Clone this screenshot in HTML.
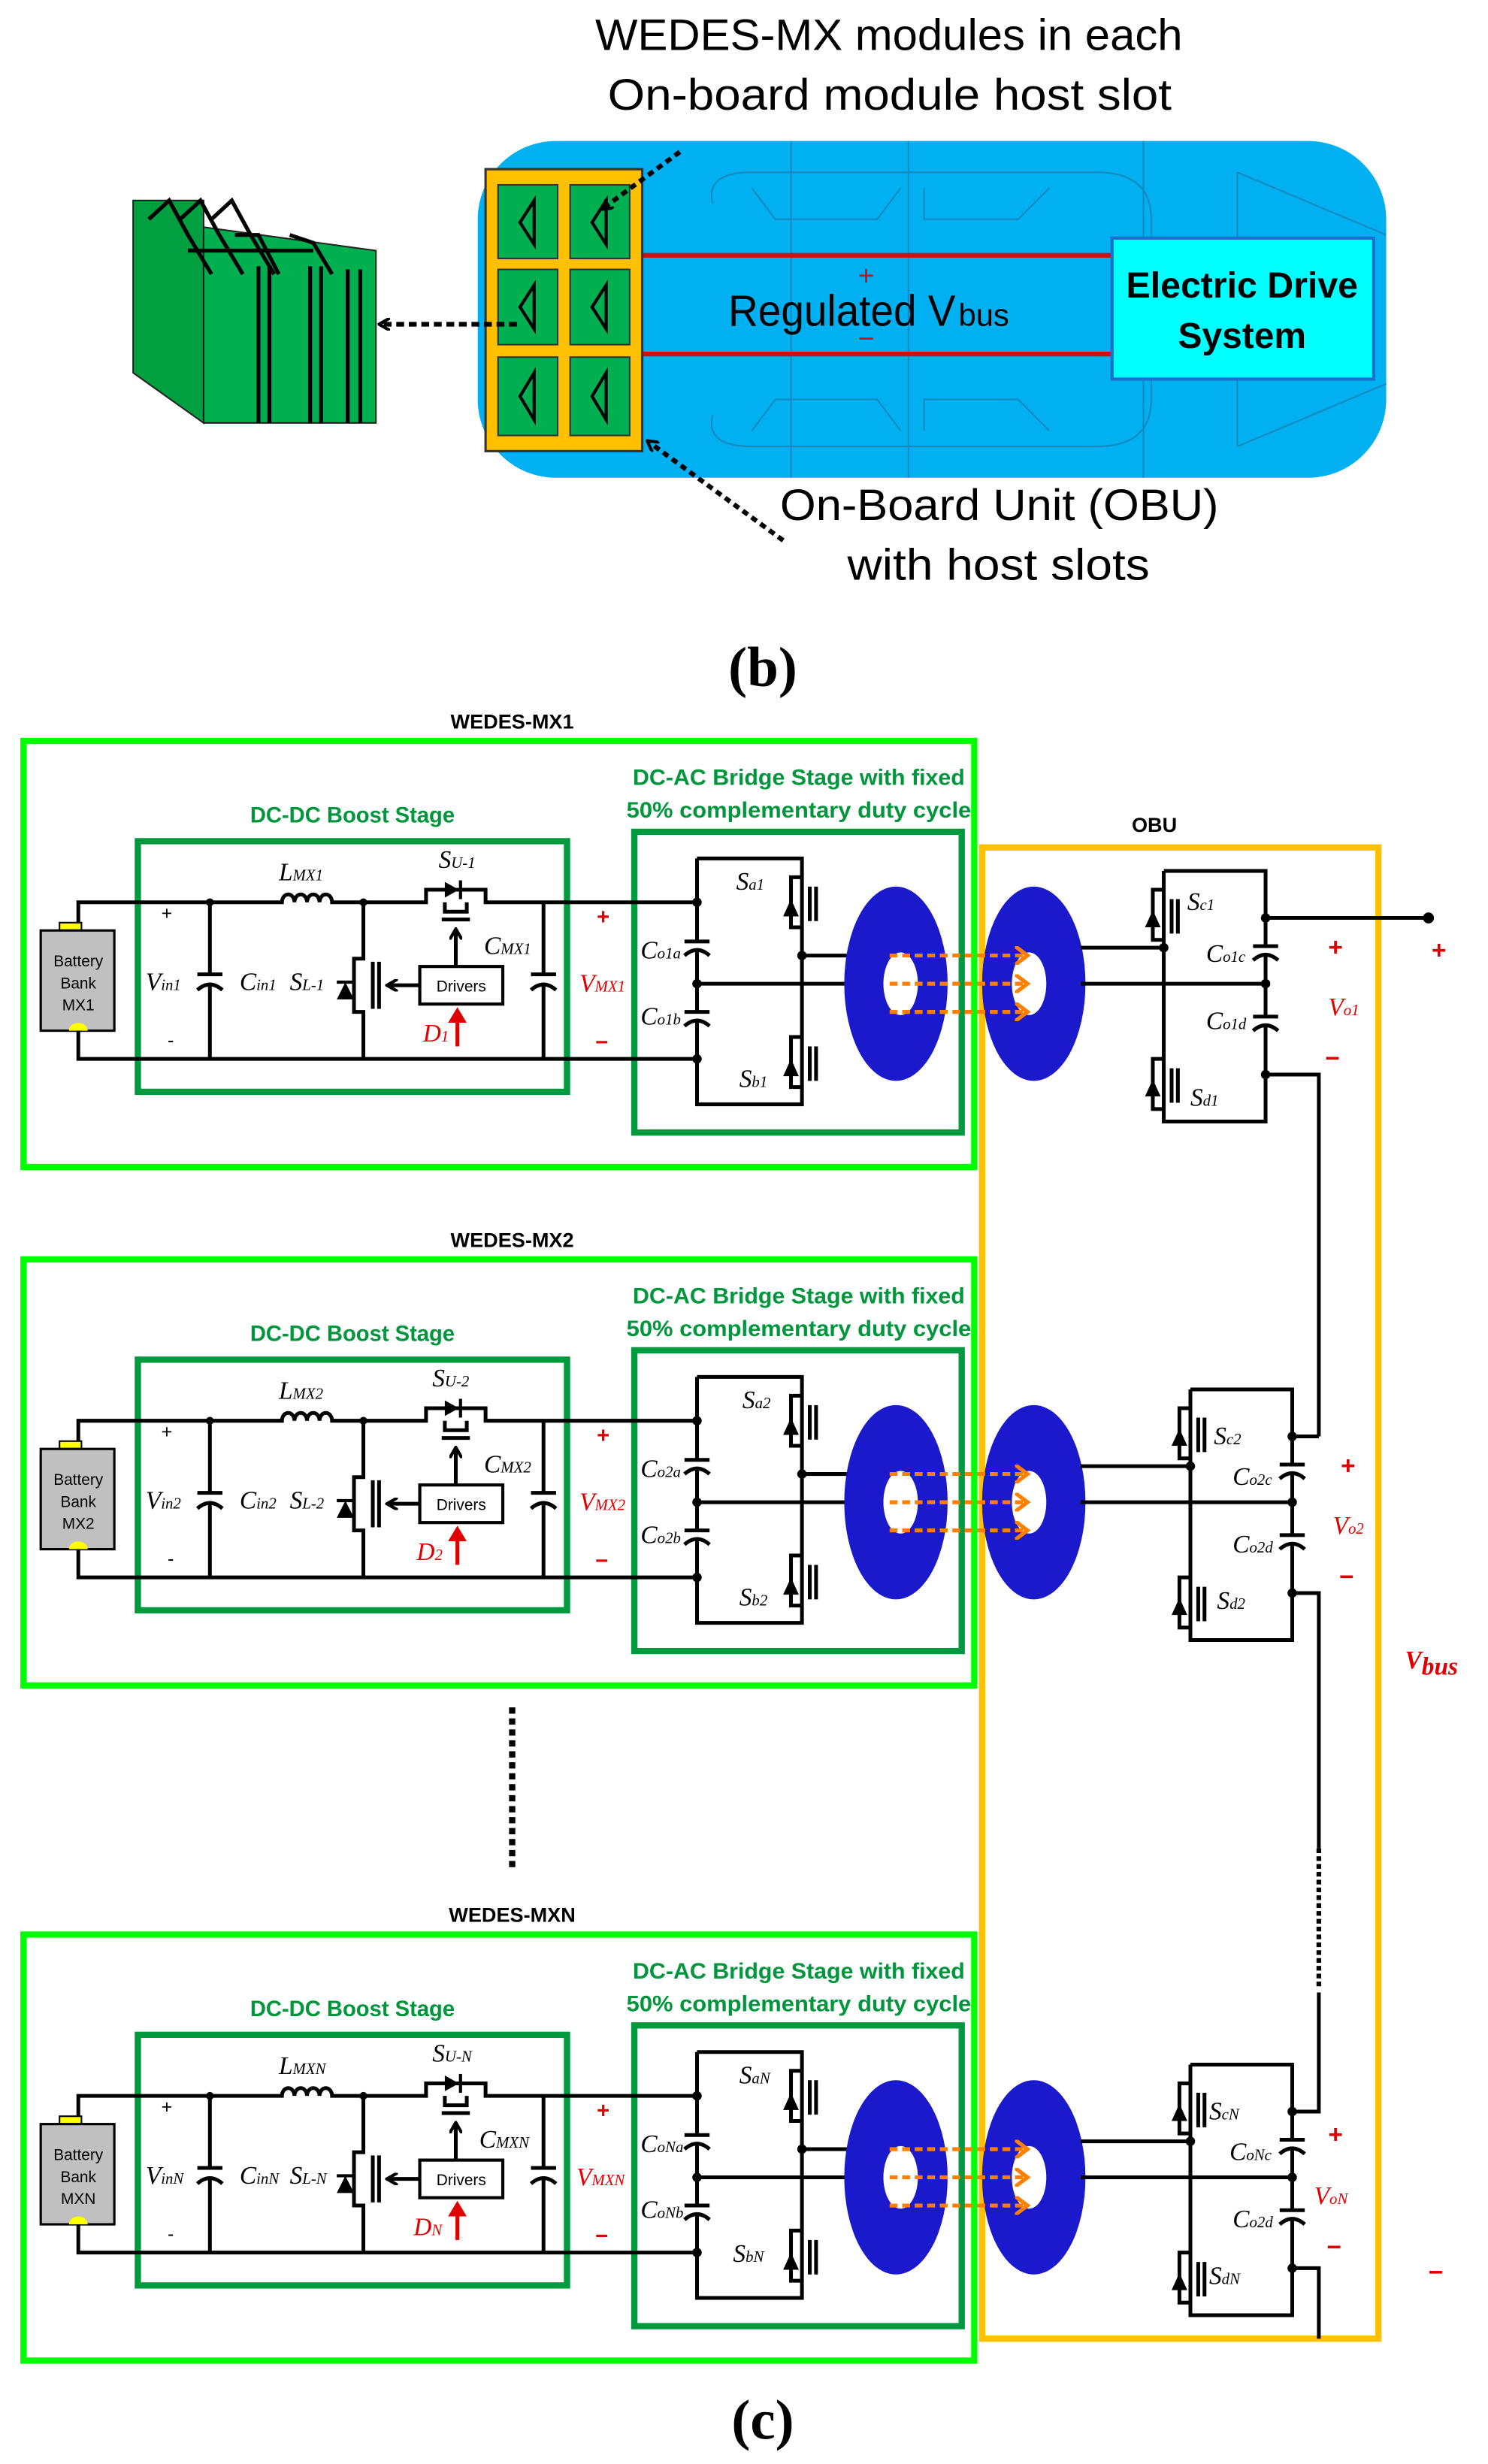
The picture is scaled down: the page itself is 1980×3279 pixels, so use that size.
<!DOCTYPE html>
<html><head><meta charset="utf-8"><style>
html,body{margin:0;padding:0;background:#fff;}
svg{display:block;}
.lbl{font-family:"Liberation Serif",serif;font-style:italic;font-size:16px;fill:#000;}
.red{fill:#e00000;}
.sub{font-size:10px;}
.gt{font-family:"Liberation Sans",sans-serif;font-weight:bold;font-size:14px;fill:#00963c;}
.tt{font-family:"Liberation Sans",sans-serif;font-weight:bold;font-size:13px;fill:#000;}
.w{stroke:#000;stroke-width:2.4;fill:none;}
</style></head><body>
<svg width="1980" height="3279" viewBox="0 0 950 1573" preserveAspectRatio="none" xmlns="http://www.w3.org/2000/svg">
<defs>
<marker id="ah" markerWidth="8" markerHeight="8" refX="6" refY="4" orient="auto" markerUnits="userSpaceOnUse"><path d="M0,0 L7,4 L0,8" fill="none" stroke="#000" stroke-width="2"/></marker>
<marker id="ahr" markerWidth="10" markerHeight="12" refX="5" refY="6" orient="auto" markerUnits="userSpaceOnUse"><path d="M0,0 L10,6 L0,12 z" fill="#e00000"/></marker>
<marker id="aho" markerWidth="10" markerHeight="12" refX="7" refY="6" orient="auto" markerUnits="userSpaceOnUse"><path d="M0,0 L8,6 L0,12" fill="none" stroke="#ff7f00" stroke-width="2.5"/></marker>
</defs>

<!-- ======== (b) car ======== -->
<text x="380" y="32" font-family="Liberation Sans,sans-serif" font-size="28" textLength="375" lengthAdjust="spacingAndGlyphs">WEDES-MX modules in each</text>
<text x="388" y="70" font-family="Liberation Sans,sans-serif" font-size="28" textLength="360" lengthAdjust="spacingAndGlyphs">On-board module host slot</text>

<rect x="305" y="90" width="580" height="215" rx="50" fill="#00b0f0"/>
<g stroke="#1a7fb5" stroke-width="1" fill="none" opacity="0.8">
<path d="M455,130 Q450,110 480,110 L700,110 Q735,110 735,140 L735,255 Q735,285 700,285 L480,285 Q450,285 455,265"/>
<path d="M480,120 L495,140 L560,140 L575,120 M590,120 L590,140 L650,140 L670,120"/>
<path d="M480,275 L495,255 L560,255 L575,275 M590,275 L590,255 L650,255 L670,275"/>
<path d="M790,110 L885,150 M790,285 L885,245 M790,110 L790,285"/>
<path d="M505,90 L505,305 M580,90 L580,305 M730,90 L730,305"/>
</g>
<line x1="410" y1="163" x2="712" y2="163" stroke="#d01010" stroke-width="3"/>
<line x1="410" y1="226" x2="712" y2="226" stroke="#d01010" stroke-width="3"/>
<text x="553" y="182" fill="#d01010" font-family="Liberation Sans,sans-serif" font-size="18" text-anchor="middle">+</text>
<text x="553" y="222" fill="#d01010" font-family="Liberation Sans,sans-serif" font-size="18" text-anchor="middle">−</text>
<text x="465" y="208" font-family="Liberation Sans,sans-serif" font-size="28" textLength="145" lengthAdjust="spacingAndGlyphs">Regulated V</text>
<text x="612" y="208" font-family="Liberation Sans,sans-serif" font-size="20">bus</text>
<rect x="710" y="152" width="167" height="90" fill="#00ffff" stroke="#1a6fd0" stroke-width="2"/>
<text x="793" y="190" font-family="Liberation Sans,sans-serif" font-weight="bold" font-size="23" text-anchor="middle" textLength="148" lengthAdjust="spacingAndGlyphs">Electric Drive</text>
<text x="793" y="222" font-family="Liberation Sans,sans-serif" font-weight="bold" font-size="23" text-anchor="middle">System</text>
<rect x="310" y="108" width="100" height="180" fill="#ffc000" stroke="#333" stroke-width="1.5"/>
<g fill="#00b050" stroke="#333" stroke-width="1">
<rect x="318" y="118" width="38" height="47"/><rect x="364" y="118" width="38" height="47"/>
<rect x="318" y="172" width="38" height="48"/><rect x="364" y="172" width="38" height="48"/>
<rect x="318" y="228" width="38" height="50"/><rect x="364" y="228" width="38" height="50"/>
</g>
<g fill="none" stroke="#000" stroke-width="2">
<path d="M341,128 L332,142 L341,156 Z"/><path d="M387,128 L378,142 L387,156 Z"/>
<path d="M341,182 L332,196 L341,210 Z"/><path d="M387,182 L378,196 L387,210 Z"/>
<path d="M341,238 L332,253 L341,268 Z"/><path d="M387,238 L378,253 L387,268 Z"/>
</g>
<!-- battery stack -->
<polygon points="85,128 130,128 130,270 85,238" fill="#00a040" stroke="#222" stroke-width="1"/>
<polygon points="130,145 240,160 240,270 130,270" fill="#00b050" stroke="#222" stroke-width="1"/>
<g stroke="#000" stroke-width="2.5" fill="none">
<path d="M95,140 L108,128 L120,150 L135,175 M115,140 L128,128 L140,150 L155,175 M135,140 L148,128 L160,150 L175,175 M120,160 L200,160 M150,150 L165,150 L178,175 M185,150 L200,155 L212,175"/>
<line x1="165" y1="170" x2="165" y2="270"/><line x1="172" y1="170" x2="172" y2="270"/>
<line x1="198" y1="170" x2="198" y2="270"/><line x1="205" y1="170" x2="205" y2="270"/>
<line x1="222" y1="172" x2="222" y2="270"/><line x1="230" y1="172" x2="230" y2="270"/>
</g>
<line x1="330" y1="207" x2="243" y2="207" stroke="#000" stroke-width="3" stroke-dasharray="5,3" marker-end="url(#ah)"/>
<line x1="434" y1="97" x2="385" y2="133" stroke="#000" stroke-width="3" stroke-dasharray="4,3" marker-end="url(#ah)"/>
<line x1="500" y1="345" x2="414" y2="282" stroke="#000" stroke-width="3" stroke-dasharray="4,3" marker-end="url(#ah)"/>
<text x="498" y="332" font-family="Liberation Sans,sans-serif" font-size="28" textLength="280" lengthAdjust="spacingAndGlyphs">On-Board Unit (OBU)</text>
<text x="541" y="370" font-family="Liberation Sans,sans-serif" font-size="28" textLength="193" lengthAdjust="spacingAndGlyphs">with host slots</text>
<text x="487" y="438" font-family="Liberation Serif,serif" font-weight="bold" font-size="36" text-anchor="middle">(b)</text>

<!-- ======== (c) ======== -->
<rect x="627" y="541" width="253" height="952" fill="none" stroke="#ffc000" stroke-width="4"/>
<text x="737" y="531" class="tt" text-anchor="middle">OBU</text>

<!-- MODULE 1 -->
<g>
<text x="327" y="465" class="tt" text-anchor="middle">WEDES-MX1</text>
<rect x="15" y="473" width="607" height="272" fill="none" stroke="#00ff00" stroke-width="4"/>
<text x="225" y="525" class="gt" text-anchor="middle">DC-DC Boost Stage</text>
<text x="510" y="501" class="gt" text-anchor="middle" textLength="212" lengthAdjust="spacingAndGlyphs">DC-AC Bridge Stage with fixed</text>
<text x="510" y="522" class="gt" text-anchor="middle" textLength="220" lengthAdjust="spacingAndGlyphs">50% complementary duty cycle</text>
<rect x="88" y="537" width="274" height="160" fill="none" stroke="#009a3e" stroke-width="4"/>
<rect x="405" y="531" width="209" height="192" fill="none" stroke="#009a3e" stroke-width="4"/>
<rect x="38" y="589" width="14" height="6" fill="#ffff00" stroke="#000" stroke-width="1"/>
<rect x="26" y="594" width="47" height="64" fill="#c0c0c0" stroke="#000" stroke-width="1.5"/>
<path d="M44,658 a6,5 0 0 1 12,0 z" fill="#ffff00"/>
<text x="50" y="617" font-family="Liberation Sans,sans-serif" font-size="10" text-anchor="middle">Battery</text>
<text x="50" y="631" font-family="Liberation Sans,sans-serif" font-size="10" text-anchor="middle">Bank</text>
<text x="50" y="645" font-family="Liberation Sans,sans-serif" font-size="10" text-anchor="middle">MX1</text>
<path class="w" d="M50,589 V576 H180 a4,5 0 0 1 8,0 a4,5 0 0 1 8,0 a4,5 0 0 1 8,0 a4,5 0 0 1 8,0 H272 V568 H310 V576 H445"/>
<polygon points="284,563 284,573 293,568"/><line x1="294" y1="562" x2="294" y2="574" stroke="#000" stroke-width="2"/>
<path class="w" d="M284,576 V582 H298 V576 M282,587 H300"/>
<path class="w" d="M50,658 V676 H445"/>
<path class="w" d="M134,576 V622 M126,622 H142 M126,632 Q134,625 142,632 M134,628 V676"/>
<path class="w" d="M347,576 V622 M339,622 H355 M339,632 Q347,625 355,632 M347,628 V676"/>
<path class="w" d="M232,576 V612 H226 V646 H232 V676 M238,614 V644 M242,614 V644"/>
<polygon points="215,638 226,638 220.5,627"/><line x1="215" y1="627" x2="226" y2="627" stroke="#000" stroke-width="2"/>
<rect x="268" y="617" width="53" height="24" fill="#fff" stroke="#000" stroke-width="2"/>
<text x="294.5" y="633" font-family="Liberation Sans,sans-serif" font-size="10" text-anchor="middle">Drivers</text>
<line x1="291" y1="617" x2="291" y2="594" stroke="#000" stroke-width="2.4" marker-end="url(#ah)"/>
<line x1="268" y1="629" x2="248" y2="629" stroke="#000" stroke-width="2.4" marker-end="url(#ah)"/>
<line x1="292" y1="668" x2="292" y2="648" stroke="#e00000" stroke-width="2.4" marker-end="url(#ahr)"/>
<g fill="#000"><circle cx="134" cy="576" r="2.5"/><circle cx="232" cy="576" r="2.5"/></g>
<text x="103" y="587" font-family="Liberation Sans,sans-serif" font-size="12">+</text>
<text x="107" y="668" font-family="Liberation Sans,sans-serif" font-size="12">-</text>
<text x="93" y="632" class="lbl">V<tspan class="sub">in1</tspan></text>
<text x="153" y="632" class="lbl">C<tspan class="sub">in1</tspan></text>
<text x="185" y="632" class="lbl">S<tspan class="sub">L-1</tspan></text>
<text x="178" y="562" class="lbl">L<tspan class="sub">MX1</tspan></text>
<text x="280" y="554" class="lbl">S<tspan class="sub">U-1</tspan></text>
<text x="309" y="609" class="lbl">C<tspan class="sub">MX1</tspan></text>
<text x="270" y="665" class="lbl red">D<tspan class="sub">1</tspan></text>
<text x="381" y="590" font-family="Liberation Sans,sans-serif" font-size="14" font-weight="bold" class="red">+</text>
<text x="370" y="633" class="lbl red">V<tspan class="sub">MX1</tspan></text>
<text x="380" y="670" font-family="Liberation Sans,sans-serif" font-size="14" font-weight="bold" class="red">−</text>
<path class="w" d="M445,548 V601 M437,601 H453 M437,610 Q445,603 453,610 M445,606 V646 M437,646 H453 M437,655 Q445,648 453,655 M445,651 V705 H512 V548 H445"/>
<path class="w" d="M512,560 H505 V592 H512 M517,566 V588 M521,566 V588 M512,662 H505 V694 H512 M517,668 V690 M521,668 V690"/>
<polygon points="500,585 510,585 505,574"/><polygon points="500,687 510,687 505,676"/>
<path class="w" d="M445,628 H545 M512,610 H545"/>
<g fill="#000"><circle cx="445" cy="576" r="3"/><circle cx="445" cy="676" r="3"/><circle cx="445" cy="628" r="3"/><circle cx="512" cy="610" r="3"/></g>
<text x="470" y="568" class="lbl">S<tspan class="sub">a1</tspan></text>
<text x="472" y="694" class="lbl">S<tspan class="sub">b1</tspan></text>
<text x="409" y="612" class="lbl" font-size="14">C<tspan class="sub">o1a</tspan></text>
<text x="409" y="654" class="lbl" font-size="14">C<tspan class="sub">o1b</tspan></text>
<ellipse cx="572" cy="628" rx="33" ry="62" fill="#1a1acc"/><ellipse cx="575" cy="628" rx="11" ry="20" fill="#fff"/>
<ellipse cx="660" cy="628" rx="33" ry="62" fill="#1a1acc"/><ellipse cx="657" cy="628" rx="11" ry="20" fill="#fff"/>
<g stroke="#ff7f00" stroke-width="2.5" stroke-dasharray="5,3" marker-end="url(#aho)"><line x1="568" y1="610" x2="655" y2="610"/><line x1="568" y1="628" x2="655" y2="628"/><line x1="568" y1="646" x2="655" y2="646"/></g>
</g>

<!-- MODULE 2 -->
<g transform="translate(0,331)">
<text x="327" y="465" class="tt" text-anchor="middle">WEDES-MX2</text>
<rect x="15" y="473" width="607" height="272" fill="none" stroke="#00ff00" stroke-width="4"/>
<text x="225" y="525" class="gt" text-anchor="middle">DC-DC Boost Stage</text>
<text x="510" y="501" class="gt" text-anchor="middle" textLength="212" lengthAdjust="spacingAndGlyphs">DC-AC Bridge Stage with fixed</text>
<text x="510" y="522" class="gt" text-anchor="middle" textLength="220" lengthAdjust="spacingAndGlyphs">50% complementary duty cycle</text>
<rect x="88" y="537" width="274" height="160" fill="none" stroke="#009a3e" stroke-width="4"/>
<rect x="405" y="531" width="209" height="192" fill="none" stroke="#009a3e" stroke-width="4"/>
<rect x="38" y="589" width="14" height="6" fill="#ffff00" stroke="#000" stroke-width="1"/>
<rect x="26" y="594" width="47" height="64" fill="#c0c0c0" stroke="#000" stroke-width="1.5"/>
<path d="M44,658 a6,5 0 0 1 12,0 z" fill="#ffff00"/>
<text x="50" y="617" font-family="Liberation Sans,sans-serif" font-size="10" text-anchor="middle">Battery</text>
<text x="50" y="631" font-family="Liberation Sans,sans-serif" font-size="10" text-anchor="middle">Bank</text>
<text x="50" y="645" font-family="Liberation Sans,sans-serif" font-size="10" text-anchor="middle">MX2</text>
<path class="w" d="M50,589 V576 H180 a4,5 0 0 1 8,0 a4,5 0 0 1 8,0 a4,5 0 0 1 8,0 a4,5 0 0 1 8,0 H272 V568 H310 V576 H445"/>
<polygon points="284,563 284,573 293,568"/><line x1="294" y1="562" x2="294" y2="574" stroke="#000" stroke-width="2"/>
<path class="w" d="M284,576 V582 H298 V576 M282,587 H300"/>
<path class="w" d="M50,658 V676 H445"/>
<path class="w" d="M134,576 V622 M126,622 H142 M126,632 Q134,625 142,632 M134,628 V676"/>
<path class="w" d="M347,576 V622 M339,622 H355 M339,632 Q347,625 355,632 M347,628 V676"/>
<path class="w" d="M232,576 V612 H226 V646 H232 V676 M238,614 V644 M242,614 V644"/>
<polygon points="215,638 226,638 220.5,627"/><line x1="215" y1="627" x2="226" y2="627" stroke="#000" stroke-width="2"/>
<rect x="268" y="617" width="53" height="24" fill="#fff" stroke="#000" stroke-width="2"/>
<text x="294.5" y="633" font-family="Liberation Sans,sans-serif" font-size="10" text-anchor="middle">Drivers</text>
<line x1="291" y1="617" x2="291" y2="594" stroke="#000" stroke-width="2.4" marker-end="url(#ah)"/>
<line x1="268" y1="629" x2="248" y2="629" stroke="#000" stroke-width="2.4" marker-end="url(#ah)"/>
<line x1="292" y1="668" x2="292" y2="648" stroke="#e00000" stroke-width="2.4" marker-end="url(#ahr)"/>
<g fill="#000"><circle cx="134" cy="576" r="2.5"/><circle cx="232" cy="576" r="2.5"/></g>
<text x="103" y="587" font-family="Liberation Sans,sans-serif" font-size="12">+</text>
<text x="107" y="668" font-family="Liberation Sans,sans-serif" font-size="12">-</text>
<text x="93" y="632" class="lbl">V<tspan class="sub">in2</tspan></text>
<text x="153" y="632" class="lbl">C<tspan class="sub">in2</tspan></text>
<text x="185" y="632" class="lbl">S<tspan class="sub">L-2</tspan></text>
<text x="178" y="562" class="lbl">L<tspan class="sub">MX2</tspan></text>
<text x="276" y="554" class="lbl">S<tspan class="sub">U-2</tspan></text>
<text x="309" y="609" class="lbl">C<tspan class="sub">MX2</tspan></text>
<text x="266" y="665" class="lbl red">D<tspan class="sub">2</tspan></text>
<text x="381" y="590" font-family="Liberation Sans,sans-serif" font-size="14" font-weight="bold" class="red">+</text>
<text x="370" y="633" class="lbl red">V<tspan class="sub">MX2</tspan></text>
<text x="380" y="670" font-family="Liberation Sans,sans-serif" font-size="14" font-weight="bold" class="red">−</text>
<path class="w" d="M445,548 V601 M437,601 H453 M437,610 Q445,603 453,610 M445,606 V646 M437,646 H453 M437,655 Q445,648 453,655 M445,651 V705 H512 V548 H445"/>
<path class="w" d="M512,560 H505 V592 H512 M517,566 V588 M521,566 V588 M512,662 H505 V694 H512 M517,668 V690 M521,668 V690"/>
<polygon points="500,585 510,585 505,574"/><polygon points="500,687 510,687 505,676"/>
<path class="w" d="M445,628 H545 M512,610 H545"/>
<g fill="#000"><circle cx="445" cy="576" r="3"/><circle cx="445" cy="676" r="3"/><circle cx="445" cy="628" r="3"/><circle cx="512" cy="610" r="3"/></g>
<text x="474" y="568" class="lbl">S<tspan class="sub">a2</tspan></text>
<text x="472" y="694" class="lbl">S<tspan class="sub">b2</tspan></text>
<text x="409" y="612" class="lbl" font-size="14">C<tspan class="sub">o2a</tspan></text>
<text x="409" y="654" class="lbl" font-size="14">C<tspan class="sub">o2b</tspan></text>
<ellipse cx="572" cy="628" rx="33" ry="62" fill="#1a1acc"/><ellipse cx="575" cy="628" rx="11" ry="20" fill="#fff"/>
<ellipse cx="660" cy="628" rx="33" ry="62" fill="#1a1acc"/><ellipse cx="657" cy="628" rx="11" ry="20" fill="#fff"/>
<g stroke="#ff7f00" stroke-width="2.5" stroke-dasharray="5,3" marker-end="url(#aho)"><line x1="568" y1="610" x2="655" y2="610"/><line x1="568" y1="628" x2="655" y2="628"/><line x1="568" y1="646" x2="655" y2="646"/></g>
</g>

<line x1="327" y1="1090" x2="327" y2="1195" stroke="#000" stroke-width="4" stroke-dasharray="4,3"/>

<!-- MODULE N -->
<g transform="translate(0,762)">
<text x="327" y="465" class="tt" text-anchor="middle">WEDES-MXN</text>
<rect x="15" y="473" width="607" height="272" fill="none" stroke="#00ff00" stroke-width="4"/>
<text x="225" y="525" class="gt" text-anchor="middle">DC-DC Boost Stage</text>
<text x="510" y="501" class="gt" text-anchor="middle" textLength="212" lengthAdjust="spacingAndGlyphs">DC-AC Bridge Stage with fixed</text>
<text x="510" y="522" class="gt" text-anchor="middle" textLength="220" lengthAdjust="spacingAndGlyphs">50% complementary duty cycle</text>
<rect x="88" y="537" width="274" height="160" fill="none" stroke="#009a3e" stroke-width="4"/>
<rect x="405" y="531" width="209" height="192" fill="none" stroke="#009a3e" stroke-width="4"/>
<rect x="38" y="589" width="14" height="6" fill="#ffff00" stroke="#000" stroke-width="1"/>
<rect x="26" y="594" width="47" height="64" fill="#c0c0c0" stroke="#000" stroke-width="1.5"/>
<path d="M44,658 a6,5 0 0 1 12,0 z" fill="#ffff00"/>
<text x="50" y="617" font-family="Liberation Sans,sans-serif" font-size="10" text-anchor="middle">Battery</text>
<text x="50" y="631" font-family="Liberation Sans,sans-serif" font-size="10" text-anchor="middle">Bank</text>
<text x="50" y="645" font-family="Liberation Sans,sans-serif" font-size="10" text-anchor="middle">MXN</text>
<path class="w" d="M50,589 V576 H180 a4,5 0 0 1 8,0 a4,5 0 0 1 8,0 a4,5 0 0 1 8,0 a4,5 0 0 1 8,0 H272 V568 H310 V576 H445"/>
<polygon points="284,563 284,573 293,568"/><line x1="294" y1="562" x2="294" y2="574" stroke="#000" stroke-width="2"/>
<path class="w" d="M284,576 V582 H298 V576 M282,587 H300"/>
<path class="w" d="M50,658 V676 H445"/>
<path class="w" d="M134,576 V622 M126,622 H142 M126,632 Q134,625 142,632 M134,628 V676"/>
<path class="w" d="M347,576 V622 M339,622 H355 M339,632 Q347,625 355,632 M347,628 V676"/>
<path class="w" d="M232,576 V612 H226 V646 H232 V676 M238,614 V644 M242,614 V644"/>
<polygon points="215,638 226,638 220.5,627"/><line x1="215" y1="627" x2="226" y2="627" stroke="#000" stroke-width="2"/>
<rect x="268" y="617" width="53" height="24" fill="#fff" stroke="#000" stroke-width="2"/>
<text x="294.5" y="633" font-family="Liberation Sans,sans-serif" font-size="10" text-anchor="middle">Drivers</text>
<line x1="291" y1="617" x2="291" y2="594" stroke="#000" stroke-width="2.4" marker-end="url(#ah)"/>
<line x1="268" y1="629" x2="248" y2="629" stroke="#000" stroke-width="2.4" marker-end="url(#ah)"/>
<line x1="292" y1="668" x2="292" y2="648" stroke="#e00000" stroke-width="2.4" marker-end="url(#ahr)"/>
<g fill="#000"><circle cx="134" cy="576" r="2.5"/><circle cx="232" cy="576" r="2.5"/></g>
<text x="103" y="587" font-family="Liberation Sans,sans-serif" font-size="12">+</text>
<text x="107" y="668" font-family="Liberation Sans,sans-serif" font-size="12">-</text>
<text x="93" y="632" class="lbl">V<tspan class="sub">inN</tspan></text>
<text x="153" y="632" class="lbl">C<tspan class="sub">inN</tspan></text>
<text x="185" y="632" class="lbl">S<tspan class="sub">L-N</tspan></text>
<text x="178" y="562" class="lbl">L<tspan class="sub">MXN</tspan></text>
<text x="276" y="554" class="lbl">S<tspan class="sub">U-N</tspan></text>
<text x="306" y="609" class="lbl">C<tspan class="sub">MXN</tspan></text>
<text x="264" y="665" class="lbl red">D<tspan class="sub">N</tspan></text>
<text x="381" y="590" font-family="Liberation Sans,sans-serif" font-size="14" font-weight="bold" class="red">+</text>
<text x="368" y="633" class="lbl red">V<tspan class="sub">MXN</tspan></text>
<text x="380" y="670" font-family="Liberation Sans,sans-serif" font-size="14" font-weight="bold" class="red">−</text>
<path class="w" d="M445,548 V601 M437,601 H453 M437,610 Q445,603 453,610 M445,606 V646 M437,646 H453 M437,655 Q445,648 453,655 M445,651 V705 H512 V548 H445"/>
<path class="w" d="M512,560 H505 V592 H512 M517,566 V588 M521,566 V588 M512,662 H505 V694 H512 M517,668 V690 M521,668 V690"/>
<polygon points="500,585 510,585 505,574"/><polygon points="500,687 510,687 505,676"/>
<path class="w" d="M445,628 H545 M512,610 H545"/>
<g fill="#000"><circle cx="445" cy="576" r="3"/><circle cx="445" cy="676" r="3"/><circle cx="445" cy="628" r="3"/><circle cx="512" cy="610" r="3"/></g>
<text x="472" y="568" class="lbl">S<tspan class="sub">aN</tspan></text>
<text x="468" y="682" class="lbl">S<tspan class="sub">bN</tspan></text>
<text x="409" y="612" class="lbl" font-size="14">C<tspan class="sub">oNa</tspan></text>
<text x="409" y="654" class="lbl" font-size="14">C<tspan class="sub">oNb</tspan></text>
<ellipse cx="572" cy="628" rx="33" ry="62" fill="#1a1acc"/><ellipse cx="575" cy="628" rx="11" ry="20" fill="#fff"/>
<ellipse cx="660" cy="628" rx="33" ry="62" fill="#1a1acc"/><ellipse cx="657" cy="628" rx="11" ry="20" fill="#fff"/>
<g stroke="#ff7f00" stroke-width="2.5" stroke-dasharray="5,3" marker-end="url(#aho)"><line x1="568" y1="610" x2="655" y2="610"/><line x1="568" y1="628" x2="655" y2="628"/><line x1="568" y1="646" x2="655" y2="646"/></g>
</g>

<!-- OBU bridges -->
<g>
<path class="w" d="M743,556 H808 V604 M800,604 H816 M800,613 Q808,606 816,613 M808,609 V649 M800,649 H816 M800,658 Q808,651 816,658 M808,654 V716 H743 V556"/>
<path class="w" d="M743,568 H736 V600 H743 M748,574 V596 M752,574 V596 M743,676 H736 V708 H743 M748,682 V704 M752,682 V704"/>
<polygon points="731,592 741,592 736,581"/><polygon points="731,700 741,700 736,689"/>
<path class="w" d="M690,605 H743 M690,628 H808 M808,586 H912 M808,686 H842 V917"/>
<g fill="#000"><circle cx="743" cy="605" r="3"/><circle cx="808" cy="628" r="3"/><circle cx="808" cy="586" r="3"/><circle cx="808" cy="686" r="3"/><circle cx="912" cy="586" r="3.5"/></g>
<text x="758" y="581" class="lbl">S<tspan class="sub">c1</tspan></text>
<text x="770" y="614" class="lbl" font-size="14">C<tspan class="sub">o1c</tspan></text>
<text x="770" y="657" class="lbl" font-size="14">C<tspan class="sub">o1d</tspan></text>
<text x="760" y="706" class="lbl">S<tspan class="sub">d1</tspan></text>
<text x="848" y="610" font-family="Liberation Sans,sans-serif" font-size="16" font-weight="bold" class="red">+</text>
<text x="914" y="612" font-family="Liberation Sans,sans-serif" font-size="16" font-weight="bold" class="red">+</text>
<text x="848" y="648" class="lbl red" font-size="20">V<tspan class="sub" font-size="12">o1</tspan></text>
<text x="846" y="681" font-family="Liberation Sans,sans-serif" font-size="16" font-weight="bold" class="red">−</text>
</g>
<g transform="translate(17,331)">
<path class="w" d="M743,556 H808 V604 M800,604 H816 M800,613 Q808,606 816,613 M808,609 V649 M800,649 H816 M800,658 Q808,651 816,658 M808,654 V716 H743 V556"/>
<path class="w" d="M743,568 H736 V600 H743 M748,574 V596 M752,574 V596 M743,676 H736 V708 H743 M748,682 V704 M752,682 V704"/>
<polygon points="731,592 741,592 736,581"/><polygon points="731,700 741,700 736,689"/>
<path class="w" d="M673,605 H743 M673,628 H808 M808,586 H825 M808,686 H825 V849"/>
<g fill="#000"><circle cx="743" cy="605" r="3"/><circle cx="808" cy="628" r="3"/><circle cx="808" cy="586" r="3"/><circle cx="808" cy="686" r="3"/></g>
<text x="758" y="591" class="lbl">S<tspan class="sub">c2</tspan></text>
<text x="770" y="617" class="lbl" font-size="14">C<tspan class="sub">o2c</tspan></text>
<text x="770" y="660" class="lbl" font-size="14">C<tspan class="sub">o2d</tspan></text>
<text x="760" y="696" class="lbl">S<tspan class="sub">d2</tspan></text>
<text x="839" y="610" font-family="Liberation Sans,sans-serif" font-size="16" font-weight="bold" class="red">+</text>
<text x="834" y="648" class="lbl red" font-size="20">V<tspan class="sub" font-size="12">o2</tspan></text>
<text x="838" y="681" font-family="Liberation Sans,sans-serif" font-size="16" font-weight="bold" class="red">−</text>
</g>
<line x1="842" y1="1180" x2="842" y2="1270" stroke="#000" stroke-width="3" stroke-dasharray="3,2"/>
<g transform="translate(17,762)">
<path class="w" d="M743,556 H808 V604 M800,604 H816 M800,613 Q808,606 816,613 M808,609 V649 M800,649 H816 M800,658 Q808,651 816,658 M808,654 V716 H743 V556"/>
<path class="w" d="M743,568 H736 V600 H743 M748,574 V596 M752,574 V596 M743,676 H736 V708 H743 M748,682 V704 M752,682 V704"/>
<polygon points="731,592 741,592 736,581"/><polygon points="731,700 741,700 736,689"/>
<path class="w" d="M673,605 H743 M673,628 H808 M808,586 H825 V510 M808,686 H825 V731"/>
<g fill="#000"><circle cx="743" cy="605" r="3"/><circle cx="808" cy="628" r="3"/><circle cx="808" cy="586" r="3"/><circle cx="808" cy="686" r="3"/></g>
<text x="755" y="591" class="lbl">S<tspan class="sub">cN</tspan></text>
<text x="768" y="617" class="lbl" font-size="14">C<tspan class="sub">oNc</tspan></text>
<text x="770" y="660" class="lbl" font-size="14">C<tspan class="sub">o2d</tspan></text>
<text x="755" y="696" class="lbl">S<tspan class="sub">dN</tspan></text>
<text x="831" y="606" font-family="Liberation Sans,sans-serif" font-size="16" font-weight="bold" class="red">+</text>
<text x="822" y="645" class="lbl red" font-size="20">V<tspan class="sub" font-size="12">oN</tspan></text>
<text x="830" y="678" font-family="Liberation Sans,sans-serif" font-size="16" font-weight="bold" class="red">−</text>
</g>
<text x="912" y="1456" font-family="Liberation Sans,sans-serif" font-size="16" font-weight="bold" class="red">−</text>
<text x="897" y="1065" class="lbl red" font-size="30" font-weight="bold">V<tspan font-size="16" dy="4">bus</tspan></text>
<text x="487" y="1557" font-family="Liberation Serif,serif" font-weight="bold" font-size="36" text-anchor="middle">(c)</text>
</svg>
</body></html>
